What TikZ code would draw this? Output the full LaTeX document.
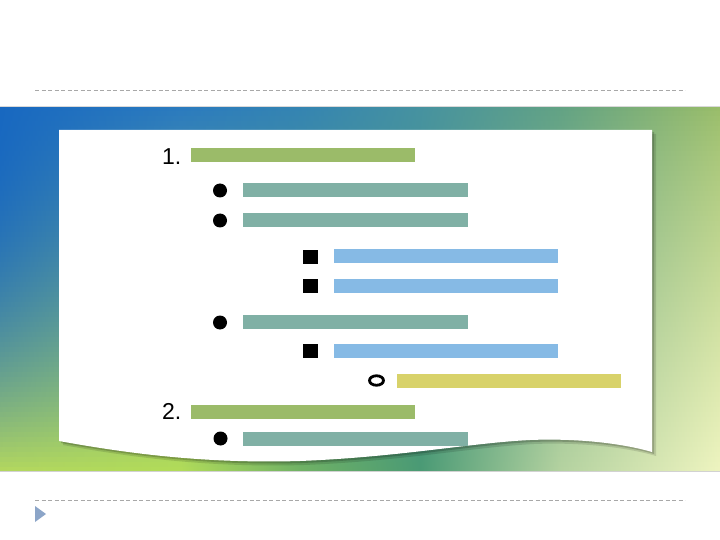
\documentclass[tikz,border=0pt]{standalone}
\usepackage{fontspec}
\setmainfont{Liberation Sans}
\usetikzlibrary{shapes.geometric}
% top row of the background
\definecolor{tA}{HTML}{1868C0}
\definecolor{tB}{HTML}{2A7ABF}
\definecolor{tC}{HTML}{3484B2}
\definecolor{tD}{HTML}{4692A0}
\definecolor{tE}{HTML}{62A284}
\definecolor{tF}{HTML}{98BC68}
% bottom row of the background
\definecolor{bA}{HTML}{B4D85E}
\definecolor{bB}{HTML}{B2DC58}
\definecolor{bC}{HTML}{70B264}
\definecolor{bD}{HTML}{4A9A74}
\definecolor{bE}{HTML}{B4D2A0}
\definecolor{bF}{HTML}{EEF4C0}
\definecolor{greenbar}{HTML}{9BBB69}
\definecolor{tealbar}{HTML}{80B0A5}
\definecolor{bluebar}{HTML}{86BAE5}
\definecolor{yellowbar}{HTML}{D8D26A}
\definecolor{dashgray}{HTML}{A8A8A8}
\definecolor{arrowblue}{HTML}{8CA5C8}
\tikzset{
  barbox/.style={anchor=west, minimum height=14pt, minimum width=224pt, inner sep=0pt, outer sep=0pt, draw=none},
  dotbullet/.style={circle, fill=black, minimum size=14pt, inner sep=0pt},
  sqbullet/.style={rectangle, fill=black, minimum width=15pt, minimum height=14pt, inner sep=0pt},
  ringbullet/.style={ellipse, draw=black, line width=2.8pt, minimum width=14pt, minimum height=9.5pt, inner sep=0pt},
  numtext/.style={anchor=base east, inner sep=0pt, font=\fontsize{23}{27}\selectfont},
  sepline/.style={dashgray, line width=0.9pt, dash pattern=on 4pt off 2.5pt}
}
\def\paperpath{(59,130) -- (652,130) -- (652,452) .. controls (625,444) and (580,438) .. (530,440) .. controls (470,443) and (400,457) .. (300,461) .. controls (200,464) and (120,452) .. (59,441) -- cycle}
\begin{document}
\begin{tikzpicture}[x=1pt,y=-1pt]
\useasboundingbox (0,0) rectangle (720,540);
\fill[white] (0,0) rectangle (720,540);
% background band, built from horizontal strips
\begin{scope}
\clip (0,107) rectangle (720,471);
\foreach \i in {0,...,72} {
  \pgfmathsetmacro\tt{(\i+0.5)/73}
  \pgfmathsetmacro\pa{100*(\tt)^2.2}
  \pgfmathsetmacro\pb{100*\tt}
  \pgfmathsetmacro\pf{100*(\tt)^0.8}
  \colorlet{sA}{bA!\pa!tA}
  \colorlet{sB}{bB!\pb!tB}
  \colorlet{sC}{bC!\pb!tC}
  \colorlet{sD}{bD!\pb!tD}
  \colorlet{sE}{bE!\pb!tE}
  \colorlet{sF}{bF!\pf!tF}
  \pgfdeclarehorizontalshading{bgstrip\i}{100bp}{color(0bp)=(sA); color(25bp)=(sA); color(37.5bp)=(sB); color(45.833bp)=(sC); color(54.167bp)=(sD); color(63.889bp)=(sE); color(75bp)=(sF); color(100bp)=(sF)}
  \fill[shading=bgstrip\i] (0,{107+\i*5}) rectangle (720,{112.6+\i*5});
}
\end{scope}
\draw[gray!30, line width=1pt] (0,107) -- (720,107);
\draw[gray!35, line width=1.2pt] (0,471.5) -- (720,471.5);
% separators
\coordinate (s1a) at (35,90); \coordinate (s1b) at (685,90);
\coordinate (s2a) at (35,500); \coordinate (s2b) at (685,500);
\draw[sepline] (s1a) -- (s1b);
\draw[sepline] (s2a) -- (s2b);
\fill[arrowblue] (35,506) -- (46,514) -- (35,522) -- cycle;
% paper shadow
\begin{scope}[shift={(4,4)}]
\fill[black, opacity=0.12] \paperpath;
\end{scope}
\begin{scope}[shift={(2,2)}]
\fill[black, opacity=0.18] \paperpath;
\end{scope}
\fill[white] \paperpath;
% items
\node[numtext] (n1) at (181.5,165) {1.};
\node[barbox, fill=greenbar] (g1) at (191,155) {};
\node[dotbullet] (d1) at (220,190.5) {};
\node[barbox, fill=tealbar, minimum width=225pt] (t1) at (243,190) {};
\node[dotbullet] (d2) at (220,220.5) {};
\node[barbox, fill=tealbar, minimum width=225pt] (t2) at (243,220) {};
\node[sqbullet] (q1) at (310.5,257) {};
\node[barbox, fill=bluebar] (bl1) at (334,255.5) {};
\node[sqbullet] (q2) at (310.5,286) {};
\node[barbox, fill=bluebar] (bl2) at (334,286) {};
\node[dotbullet] (d3) at (220,322.5) {};
\node[barbox, fill=tealbar, minimum width=225pt] (t3) at (243,322) {};
\node[sqbullet] (q3) at (310.5,350.5) {};
\node[barbox, fill=bluebar] (bl3) at (334,350.5) {};
\node[ringbullet] (r1) at (376.5,380.5) {};
\node[barbox, fill=yellowbar] (y1) at (397,381) {};
\node[numtext] (n2) at (181.5,419) {2.};
\node[barbox, fill=greenbar] (g2) at (191,411.5) {};
\node[dotbullet] (d4) at (220.5,438.5) {};
\node[barbox, fill=tealbar, minimum width=225pt] (t4) at (243,438.5) {};
\end{tikzpicture}
\end{document}
